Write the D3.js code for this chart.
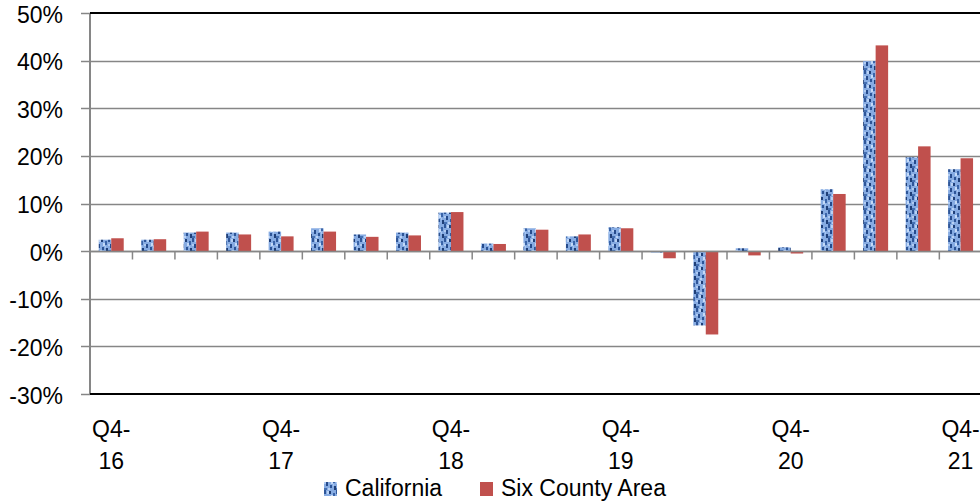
<!DOCTYPE html>
<html>
<head>
<meta charset="utf-8">
<script src="https://cdn.jsdelivr.net/npm/d3@7/dist/d3.min.js"></script>
<style>
  html, body { margin: 0; padding: 0; background: #fff; overflow: hidden; }
  svg { display: block; }
  text { font-family: "Liberation Sans", Arial, sans-serif; fill: #000; }
</style>
</head>
<body>
<svg id="chart" width="980" height="502"></svg>
<script>
const categories = [
  "Q4-16","Q1-17","Q2-17","Q3-17","Q4-17","Q1-18","Q2-18","Q3-18","Q4-18",
  "Q1-19","Q2-19","Q3-19","Q4-19","Q1-20","Q2-20","Q3-20","Q4-20",
  "Q1-21","Q2-21","Q3-21","Q4-21"
];
const seriesNames = ["California", "Six County Area"];
const california = [2.4, 2.4, 3.9, 3.9, 4.1, 4.8, 3.5, 3.9, 8.1, 1.6, 4.8, 3.1, 5.0, -0.3, -15.6, 0.6, 0.8, 13.0, 39.9, 19.7, 17.2];
const sixCounty  = [2.7, 2.5, 4.1, 3.5, 3.1, 4.1, 3.0, 3.3, 8.2, 1.5, 4.5, 3.5, 4.8, -1.5, -17.5, -0.9, -0.5, 12.0, 43.2, 22.0, 19.5];
const yTicks = [-30, -20, -10, 0, 10, 20, 30, 40, 50];

const svg = d3.select("#chart");
const mLeft = 90, mTop = 13, mBottom = 394, mRight = 981.8;
const fontSize = "23px";

// blue textured pattern
const defs = svg.append("defs");
const pat = defs.append("pattern").attr("id", "blueTex")
  .attr("patternUnits", "userSpaceOnUse").attr("width", 12).attr("height", 14);
pat.append("rect").attr("width", 12).attr("height", 14).attr("fill", "#86abe2");
const spots = [
  [0,0,2,4,"#2f5699"],[5,1,2,3,"#1f3f78"],[9,3,2,4,"#3a64a8"],[2,6,2,4,"#264b8c"],
  [6,9,2,3,"#2d5597"],[10,10,2,4,"#1f3f78"],[0,12,3,2,"#4570b2"],
  [3,1,2,3,"#b9d2f5"],[7,5,2,3,"#c4daf8"],[0,6,2,2,"#b0cbf2"],[9,8,1,2,"#a9c6f0"],[4,12,2,2,"#b9d2f5"]
];
spots.forEach(s => pat.append("rect").attr("x", s[0]).attr("y", s[1])
  .attr("width", s[2]).attr("height", s[3]).attr("fill", s[4]));

const x0 = d3.scaleBand().domain(categories).range([mLeft, mRight]).padding(0);
const x1 = d3.scaleBand().domain(seriesNames).range([0, x0.bandwidth()]).paddingInner(0).paddingOuter(0.7);
const y = d3.scaleLinear().domain([-30, 50]).range([mBottom, mTop]);

const gridColor = "#868686";

// gridlines
svg.append("g").selectAll("line").data(yTicks.filter(t => t !== 50 && t !== -30))
  .join("line")
  .attr("x1", mLeft).attr("x2", 980)
  .attr("y1", d => Math.round(y(d)) + 0.5).attr("y2", d => Math.round(y(d)) + 0.5)
  .attr("stroke", gridColor).attr("stroke-width", 1.5);

// y ticks (outward)
svg.append("g").selectAll("line").data(yTicks).join("line")
  .attr("x1", 81).attr("x2", mLeft)
  .attr("y1", d => Math.round(y(d)) + 0.5).attr("y2", d => Math.round(y(d)) + 0.5)
  .attr("stroke", gridColor).attr("stroke-width", 1.5);

// y labels
svg.append("g").selectAll("text").data(yTicks).join("text")
  .attr("x", 63).attr("y", d => y(d) + 9.5)
  .attr("text-anchor", "end")
  .style("font-size", fontSize)
  .text(d => d + "%");

// bars
const series = [
  { name: "California", values: california, fill: "url(#blueTex)" },
  { name: "Six County Area", values: sixCounty, fill: "#c0504d" }
];
series.forEach(s => {
  svg.append("g").selectAll("rect").data(categories).join("rect")
    .attr("x", (c) => x0(c) + x1(s.name))
    .attr("width", x1.bandwidth())
    .attr("y", (c, i) => y(Math.max(0, s.values[i])))
    .attr("height", (c, i) => Math.abs(y(s.values[i]) - y(0)))
    .attr("fill", s.fill);
});

// zero axis with downward ticks
const y0 = Math.round(y(0)) + 0.5;
svg.append("line").attr("x1", mLeft).attr("x2", 980).attr("y1", y0).attr("y2", y0)
  .attr("stroke", gridColor).attr("stroke-width", 1.5);
svg.append("g").selectAll("line").data(categories.slice(1)).join("line")
  .attr("x1", c => x0(c)).attr("x2", c => x0(c))
  .attr("y1", y0).attr("y2", y0 + 8)
  .attr("stroke", gridColor).attr("stroke-width", 1.5);

// left axis
svg.append("line").attr("x1", mLeft).attr("x2", mLeft).attr("y1", mTop).attr("y2", mBottom)
  .attr("stroke", gridColor).attr("stroke-width", 2);

// top & bottom border lines (black)
[50, -30].forEach(v => {
  svg.append("line").attr("x1", mLeft).attr("x2", 980)
    .attr("y1", y(v)).attr("y2", y(v))
    .attr("stroke", "#000").attr("stroke-width", 2);
});

// x labels (Q4 only)
const xl = svg.append("g").selectAll("text").data(categories.filter(c => c.startsWith("Q4")))
  .join("text")
  .attr("text-anchor", "middle")
  .style("font-size", fontSize);
xl.append("tspan").attr("x", c => x0(c) + x0.bandwidth() / 2).attr("y", 437).text(c => c.slice(0, 3));
xl.append("tspan").attr("x", c => x0(c) + x0.bandwidth() / 2).attr("y", 469).text(c => c.slice(3));

// legend
const legendItems = [
  { name: "California", fill: "url(#blueTex)", sx: 324, tx: 345 },
  { name: "Six County Area", fill: "#c0504d", sx: 480, tx: 501 }
];
const lg = svg.append("g");
legendItems.forEach(l => {
  lg.append("rect").attr("x", l.sx).attr("y", 482).attr("width", 13).attr("height", 14).attr("fill", l.fill);
  lg.append("text").attr("x", l.tx).attr("y", 495.5).style("font-size", fontSize).text(l.name);
});
</script>
</body>
</html>
